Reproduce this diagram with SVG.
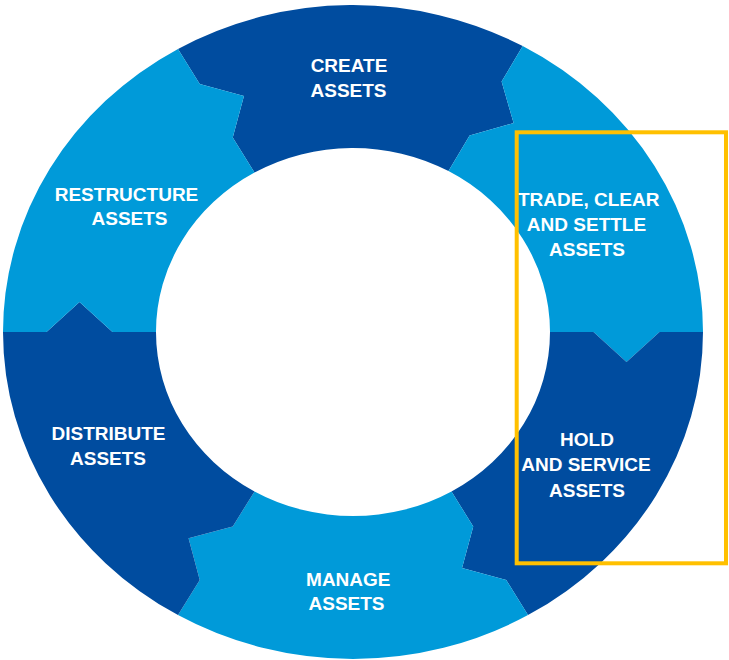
<svg xmlns="http://www.w3.org/2000/svg" width="729" height="660" viewBox="0 0 729 660">
<style>
.dark{fill:#004C9F}
.light{fill:#009AD9}
.lbl{font-family:"Liberation Sans",Arial,sans-serif;font-weight:bold;font-size:19px;fill:#FFFFFF;text-anchor:middle}
.hl{fill:none;stroke:#FFC000;stroke-width:4}
</style>
<rect width="729" height="660" fill="#FFFFFF"/>
<g id="create">
<path class="dark" d="M178,48.9 A350,327 0 0 1 522.7,46.1 L501.6,81.6 L513.6,123.1 L469.6,135.5 L448.5,171.1 A197,184 0 0 0 254.5,172.6 L232.75,137.5 L243.95,95.9 L199.75,84.1 Z"/>
<text class="lbl" x="349" y="71.7">CREATE</text>
<text class="lbl" x="348.5" y="96.7">ASSETS</text>
</g>
<g id="trade">
<path class="light" d="M522.7,46.1 A350,327 0 0 1 703,332 L659.5,332 L626.5,361.9 L593.5,332 L550,332 A197,184 0 0 0 448.5,171.1 L469.6,135.5 L513.6,123.1 L501.6,81.6 Z"/>
<text class="lbl" x="588.7" y="205.7">TRADE, CLEAR</text>
<text class="lbl" x="586.5" y="230.5">AND SETTLE</text>
<text class="lbl" x="587" y="255.7">ASSETS</text>
</g>
<g id="hold">
<path class="dark" d="M703,332 A350,327 0 0 1 528,615.1 L506.25,579.9 L462.05,568.1 L473.25,526.5 L451.5,491.4 A197,184 0 0 0 550,332 L593.5,332 L626.5,361.9 L659.5,332 Z"/>
<text class="lbl" x="587" y="445.7">HOLD</text>
<text class="lbl" x="586" y="471.2">AND SERVICE</text>
<text class="lbl" x="587" y="496.7">ASSETS</text>
</g>
<g id="manage">
<path class="light" d="M528,615.1 A350,327 0 0 1 178,615.1 L199.75,579.9 L188.55,538.3 L232.75,526.5 L254.5,491.4 A197,184 0 0 0 451.5,491.4 L473.25,526.5 L462.05,568.1 L506.25,579.9 Z"/>
<text class="lbl" x="348.3" y="585.7">MANAGE</text>
<text class="lbl" x="346.5" y="610">ASSETS</text>
</g>
<g id="distribute">
<path class="dark" d="M178,615.1 A350,327 0 0 1 3,332 L46.5,332 L79.5,302.1 L112.5,332 L156,332 A197,184 0 0 0 254.5,491.4 L232.75,526.5 L188.55,538.3 L199.75,579.9 Z"/>
<text class="lbl" x="108.5" y="440">DISTRIBUTE</text>
<text class="lbl" x="108" y="465">ASSETS</text>
</g>
<g id="restructure">
<path class="light" d="M3,332 A350,327 0 0 1 178,48.9 L199.75,84.1 L243.95,95.9 L232.75,137.5 L254.5,172.6 A197,184 0 0 0 156,332 L112.5,332 L79.5,302.1 L46.5,332 Z"/>
<text class="lbl" x="126.5" y="200.7">RESTRUCTURE</text>
<text class="lbl" x="129.5" y="225">ASSETS</text>
</g>
<g id="connectors"></g>
<g id="highlight">
<rect class="hl" x="516.7" y="132.3" width="209.3" height="431"/>
</g>
</svg>
